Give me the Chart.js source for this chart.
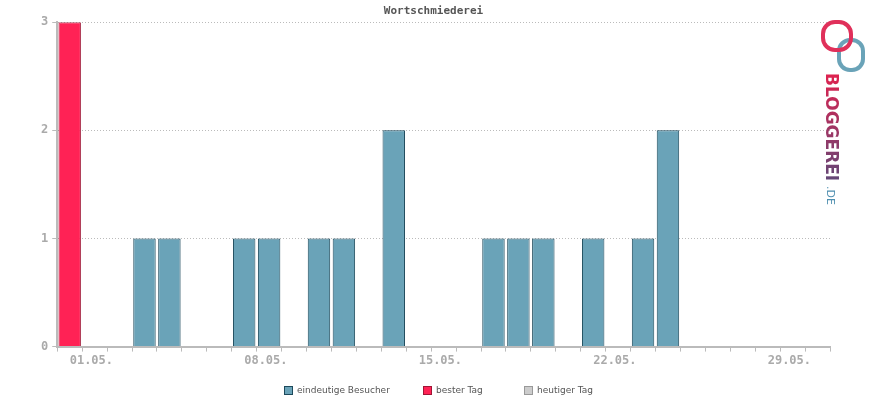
<!DOCTYPE html>
<html>
<head>
<meta charset="utf-8">
<script src="https://cdn.jsdelivr.net/npm/chart.js@4"></script>
<style>
  body { margin: 0; background: #fff; }
  #wrap { width: 870px; height: 400px; }
</style>
</head>
<body>
<div id="wrap"><canvas id="c"></canvas></div>
<script>
const days = [];
for (let d = 1; d <= 31; d++) days.push((d < 10 ? '0' + d : d) + '.05.');
const visitors = [0,0,0,1,1,0,0,1,1,0,1,1,0,2,0,0,0,1,1,1,0,1,0,1,2,0,0,0,0,0,0];
const bestDay = [3,0,0,0,0,0,0,0,0,0,0,0,0,0,0,0,0,0,0,0,0,0,0,0,0,0,0,0,0,0,0];
const today = days.map(() => 0);
const shownLabels = ['01.05.', '08.05.', '15.05.', '22.05.', '29.05.'];
const legendX = [284, 423, 524];

const mono = "'DejaVu Sans Mono', monospace";

// legend and logo drawn by hand
const extras = {
    id: 'extras',
    afterDraw(chart) {
        const ctx = chart.ctx;
        ctx.save();
        // legend from the datasets
        ctx.font = "9px 'DejaVu Sans'";
        ctx.textBaseline = 'middle';
        chart.data.datasets.forEach((ds, i) => {
            const x = legendX[i];
            ctx.fillStyle = ds.backgroundColor;
            ctx.strokeStyle = ds.borderColor;
            ctx.lineWidth = 1;
            ctx.fillRect(x, 386, 9, 9);
            ctx.strokeRect(x + 0.5, 386.5, 8, 8);
            ctx.fillStyle = '#555';
            ctx.fillText(ds.label, x + 13, 391);
        });
        // logo
        ctx.lineWidth = 4;
        ctx.strokeStyle = '#6aa3b8';
        ctx.beginPath();
        ctx.roundRect(839, 40, 24, 30, 11);
        ctx.stroke();
        ctx.strokeStyle = '#e0305a';
        ctx.beginPath();
        ctx.roundRect(823, 22, 28, 28, 12);
        ctx.stroke();
        ctx.translate(822, 73);
        ctx.rotate(Math.PI / 2);
        const g = ctx.createLinearGradient(0, 0, 115, 0);
        g.addColorStop(0, '#e0224f');
        g.addColorStop(1, '#5a4a7a');
        ctx.fillStyle = g;
        ctx.font = "bold 17px 'DejaVu Sans'";
        ctx.textBaseline = 'bottom';
        ctx.fillText('BLOGGEREI', 0, 0);
        ctx.fillStyle = '#4f8fb0';
        ctx.font = "11px 'DejaVu Sans'";
        ctx.fillText('.DE', 113, -2);
        ctx.restore();
    }
};

new Chart(document.getElementById('c'), {
    type: 'bar',
    data: {
        labels: days,
        datasets: [
            { label: 'eindeutige Besucher', data: visitors, backgroundColor: '#6aa3b8', borderColor: '#1d4a5c', borderWidth: 1, categoryPercentage: 0.9, barPercentage: 1 },
            { label: 'bester Tag', data: bestDay, backgroundColor: '#ff2255', borderColor: '#a01535', borderWidth: 1, categoryPercentage: 0.9, barPercentage: 1 },
            { label: 'heutiger Tag', data: today, backgroundColor: '#cccccc', borderColor: '#999999', borderWidth: 1, categoryPercentage: 0.9, barPercentage: 1 }
        ]
    },
    options: {
        responsive: true,
        maintainAspectRatio: false,
        animation: false,
        layout: { padding: { left: 37, right: 40, top: 0, bottom: 30 } },
        plugins: {
            title: { display: true, text: 'Wortschmiederei', color: '#555', font: { family: mono, size: 11, weight: 'bold' }, padding: { top: 5, bottom: 4 } },
            legend: { display: false },
            tooltip: { enabled: false }
        },
        scales: {
            x: {
                stacked: true,
                grid: { offset: true, display: true, drawOnChartArea: false, color: '#bbb', tickLength: 5 },
                border: { color: '#bbb', width: 2 },
                ticks: {
                    autoSkip: false, maxRotation: 0, align: 'start', color: '#aaa', padding: 2,
                    font: { family: mono, size: 12, weight: 'bold' },
                    callback: function(v) { const l = this.getLabelForValue(v); return shownLabels.includes(l) ? l : ''; }
                }
            },
            y: {
                stacked: true,
                min: 0, max: 3,
                ticks: { stepSize: 1, color: '#aaa', font: { family: mono, size: 12, weight: 'bold' }, padding: 4 },
                grid: { color: '#bbb', tickLength: 5 },
                border: { color: '#bbb', width: 2, dash: [1, 2] }
            }
        }
    },
    plugins: [extras]
});
</script>
</body>
</html>
